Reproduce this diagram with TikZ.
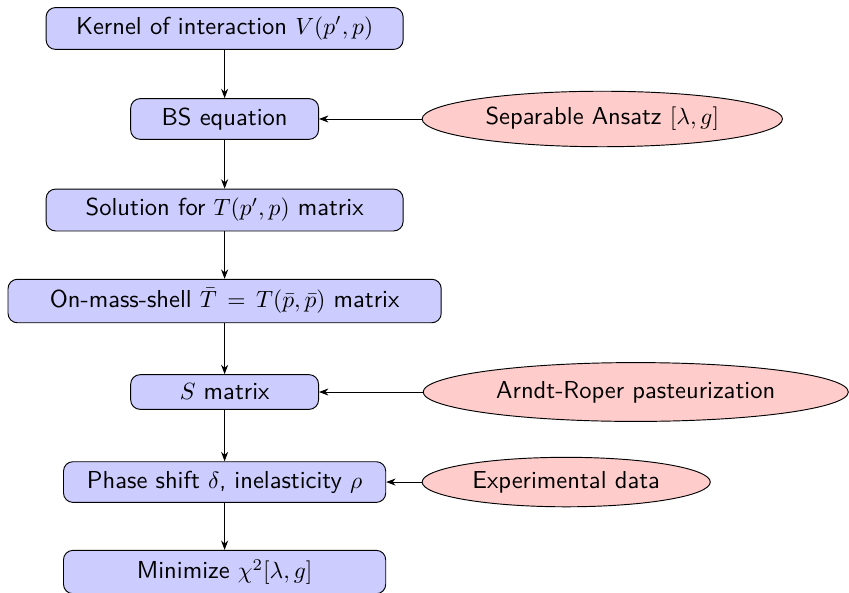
\documentclass[tikz,border=0pt]{standalone}
\usepackage{amsmath}
\usetikzlibrary{shapes.geometric,arrows.meta}

\begin{document}
\begin{tikzpicture}[every node/.style={font=\fontsize{10.45}{12.5}\selectfont\sffamily},
  blk/.style={draw,fill=blue!20,rounded corners=4pt,align=center,inner ysep=3.9pt},
  cld/.style={draw,ellipse,fill=red!20,inner sep=0pt},
  ar/.style={-{Stealth[length=4pt,width=3pt]}}]
\useasboundingbox (0,0) rectangle (12.70,-8.87);
\def\xc{3.36}
%------------- main column
\node[blk,minimum width=5.34cm] (kern) at (\xc,-0.426) {Kernel of interaction $V(p',p)$};
\node[blk,minimum width=2.81cm] (bse) at (\xc,-1.780) {BS equation};
\node[blk,minimum width=5.34cm] (tmat) at (\xc,-3.142) {Solution for $T(p',p)$ matrix};
\node[blk,minimum width=6.48cm] (onsh) at (\xc,-4.503) {On-mass-shell $\bar T\,=\,T(\bar p,\bar p)$ matrix};
\node[blk,minimum width=2.81cm] (smat) at (\xc,-5.864) {$S$ matrix};
\node[blk,minimum width=4.82cm] (phase) at (\xc,-7.211) {Phase shift $\delta$, inelasticity $\rho$};
\node[blk,minimum width=4.82cm] (chisq) at (\xc,-8.557) {Minimize $\chi^2[\lambda,g]$};
%------------- inputs
\node[cld,minimum width=5.39cm,minimum height=0.83cm] (ansatz) at (9.01,-1.780) {Separable Ansatz $[\lambda,g]$};
\node[cld,minimum width=6.36cm,minimum height=0.88cm] (arndt) at (9.51,-5.864) {Arndt-Roper pasteurization};
\node[cld,minimum width=4.31cm,minimum height=0.74cm] (expt) at (8.47,-7.211) {Experimental data};
%------------- arrows
\draw[ar] (kern) -- (bse);
\draw[ar] (bse) -- (tmat);
\draw[ar] (tmat) -- (onsh);
\draw[ar] (onsh) -- (smat);
\draw[ar] (smat) -- (phase);
\draw[ar] (phase) -- (chisq);
\draw[ar] (ansatz) -- (bse);
\draw[ar] (arndt) -- (smat);
\draw[ar] (expt) -- (phase);
\end{tikzpicture}
\end{document}
